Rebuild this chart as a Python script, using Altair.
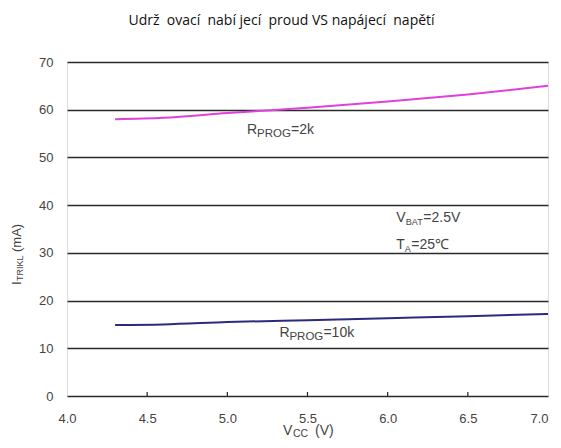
import altair as alt
import pandas as pd

# ---- data ----
vcc = [4.3, 4.6, 5.0, 5.5, 6.0, 6.5, 7.0]
i_2k = [58.0, 58.3, 59.3, 60.4, 61.7, 63.2, 65.0]
i_10k = [14.9, 15.0, 15.5, 15.9, 16.3, 16.7, 17.2]
x_ticks = [4.0, 4.5, 5.0, 5.5, 6.0, 6.5, 7.0]
y_ticks = [0, 10, 20, 30, 40, 50, 60, 70]
inner_ticks = [4.5, 5.0, 5.5, 6.0, 6.5]

title_text = "Udrž\u00a0 ovací\u00a0 nabí jecí\u00a0 proud VS napájecí\u00a0 napětí"

W, H = 481, 334
FONT = "Liberation Sans"
TXT = "#444444"

df = pd.DataFrame({
    "vcc": vcc * 2,
    "i": i_2k + i_10k,
    "serie": ["2k"] * len(vcc) + ["10k"] * len(vcc),
})

xs = alt.Scale(domain=[4, 7], nice=False)
ys = alt.Scale(domain=[0, 70], nice=False)

base = alt.Chart(df)

lines = base.mark_line(strokeWidth=2, interpolate="monotone").encode(
    x=alt.X("vcc:Q", scale=xs,
            axis=alt.Axis(values=x_ticks, format=".1f", title=None, grid=False,
                          ticks=False, domain=False, labelPadding=16, labelFlush=False,
                          labelAlign=alt.ExprRef("datum.value >= 7 ? 'right' : 'center'"),
                          labelFont=FONT, labelFontSize=13, labelColor=TXT)),
    y=alt.Y("i:Q", scale=ys,
            axis=alt.Axis(values=y_ticks, title=None, grid=True, gridColor="#2a2a2a",
                          gridWidth=1.5, ticks=False, domain=False, labelPadding=14,
                          labelFlush=False,
                          labelFont=FONT, labelFontSize=13, labelColor=TXT)),
    color=alt.Color("serie:N", scale=alt.Scale(domain=["2k", "10k"],
                                              range=["#e040dc", "#2c2a80"]), legend=None),
    detail="serie:N",
)

tick_df = pd.DataFrame({"t": inner_ticks})
ticks = alt.Chart(tick_df).mark_rule(color="#222", strokeWidth=1.2).encode(
    x=alt.X("t:Q", scale=xs), y=alt.value(H), y2=alt.value(H - 4)
)

layers = [lines, ticks]


def label_parts(xv, yv, parts, angle=None, pixel=False):
    """parts: list of (text, dx, dy, size)"""
    out = []
    for text, dx, dy, size in parts:
        kw = dict(align="left", baseline="alphabetic", dx=dx, dy=dy,
                  fontSize=size, font=FONT, color=TXT)
        if angle is not None:
            kw["angle"] = angle
        m = alt.Chart(pd.DataFrame({"a": [0]})).mark_text(text=text, **kw)
        if pixel:
            m = m.encode(x=alt.value(xv), y=alt.value(yv))
        else:
            m = m.encode(x=alt.X("xx:Q", scale=xs), y=alt.Y("yy:Q", scale=ys)).transform_calculate(
                xx=str(xv), yy=str(yv))
        out.append(m)
    return out


# annotations (data coordinates)
layers += label_parts(5.123, 55.0, [("R", 0, 0, 14), ("PROG", 10, 3, 11.5), ("=2k", 44, 0, 14)])
layers += label_parts(6.054, 36.5, [("V", 0, 0, 14), ("BAT", 9.5, 3, 9), ("=2.5V", 27, 0, 14)])
layers += label_parts(6.054, 30.8, [("T", 0, 0, 14), ("A", 8.5, 3, 9), ("=25\u2103", 15, 0, 14)])
layers += label_parts(5.325, 12.4, [("R", 0, 0, 14), ("PROG", 10, 3, 11.5), ("=10k", 44, 0, 14)])

# axis titles with subscripts (pixel positions relative to plot area)
layers += label_parts(216, H + 39, [("V", 0, 0, 14), ("CC", 10, 2, 10.5), ("(V)", 32, 0, 14)], pixel=True)
layers += label_parts(-46, 223, [("I", 0, 0, 13), ("TRIKL", 4, 2, 9), ("(mA)", 33, 0, 13)],
                      angle=270, pixel=True)

chart = alt.layer(*layers).properties(
    width=W, height=H,
    title=alt.TitleParams(title_text, font="Open Sans", fontSize=14, fontWeight="normal",
                          color="#111", anchor="middle", dx=-26, offset=28),
    autosize=alt.AutoSizeParams(type="none"),
    padding={"left": 59, "top": 54, "right": 4, "bottom": 44},
).configure_view(stroke="#111", strokeWidth=1.5).configure(background="white")

chart.save("out.html", embed_options={"renderer": "svg", "actions": False})
